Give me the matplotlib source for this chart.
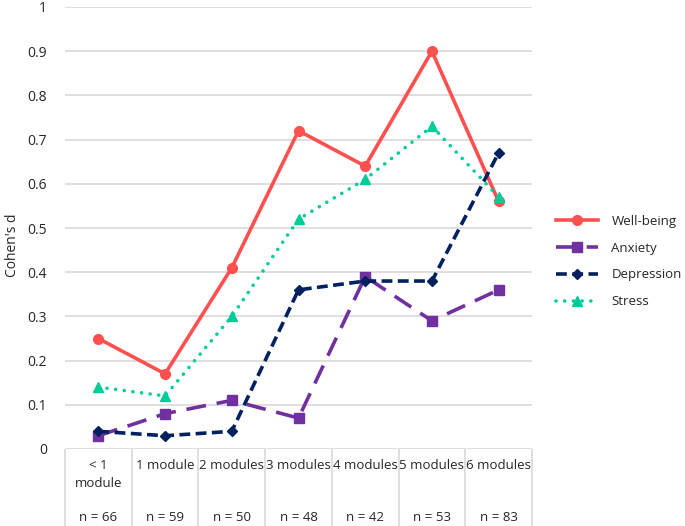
import matplotlib
matplotlib.use("Agg")
import matplotlib.pyplot as plt
import numpy as np

categories = ["< 1\nmodule", "1 module", "2 modules", "3 modules",
              "4 modules", "5 modules", "6 modules"]
n_labels = ["n = 66", "n = 59", "n = 50", "n = 48", "n = 42", "n = 53", "n = 83"]

wellbeing = [0.25, 0.17, 0.41, 0.72, 0.64, 0.90, 0.56]
anxiety = [0.03, 0.08, 0.11, 0.07, 0.39, 0.29, 0.36]
depression = [0.04, 0.03, 0.04, 0.36, 0.38, 0.38, 0.67]
stress = [0.14, 0.12, 0.30, 0.52, 0.61, 0.73, 0.57]

plt.rcParams["font.family"] = ["Open Sans", "DejaVu Sans"]
plt.rcParams["font.size"] = 9.5
text_color = "#262626"

W, H = 685, 526
fig = plt.figure(figsize=(W / 100, H / 100), dpi=100)
ax = fig.add_axes([65 / W, (H - 449) / H, 467 / W, 442 / H])

x = np.arange(len(categories))

ax.plot(x, wellbeing, color="#FF5050", lw=2.6, marker="o", ms=7,
        label="Well-being", zorder=3)
ax.plot(x, anxiety, color="#7030A0", lw=2.6, marker="s", ms=7,
        dashes=(5.5, 3), label="Anxiety", zorder=3)
ax.plot(x, depression, color="#002060", lw=2.6, marker="D", ms=5.5,
        dashes=(3, 1.5), label="Depression", zorder=3)
ax.plot(x, stress, color="#00CC99", lw=2.6, marker="^", ms=7.5,
        dashes=(0.01, 2.4), dash_capstyle="round", label="Stress", zorder=3)

ax.set_xlim(-0.5, len(categories) - 0.5)
ax.set_ylim(0, 1)
ax.set_yticks(np.arange(0, 1.01, 0.1))
ax.set_yticklabels(["0", "0.1", "0.2", "0.3", "0.4", "0.5", "0.6", "0.7",
                    "0.8", "0.9", "1"], color=text_color, fontsize=10)
ax.tick_params(axis="y", length=0, pad=13)
ax.set_xticks([])
ax.grid(axis="y", color="#D9D9D9", lw=1.2)
ax.set_axisbelow(True)
for s in ax.spines.values():
    s.set_visible(False)

ax.set_ylabel("Cohen's d", color=text_color, fontsize=10)
ax.yaxis.set_label_coords(-0.096, 0.46)

# category table under the axis
xt = ax.get_xaxis_transform()
ax.vlines(np.arange(len(categories) + 1) - 0.5, -0.2, 0, transform=xt,
          color="#D9D9D9", lw=1.2, clip_on=False)
for i, (c, n) in enumerate(zip(categories, n_labels)):
    ax.text(i, -0.022, c, transform=xt, ha="center", va="top",
            color=text_color, linespacing=1.5)
    ax.text(i, -0.154, n, transform=xt, ha="center", va="center",
            color=text_color)

ax.legend(loc="center left", bbox_to_anchor=(556 / W, 1 - 261.5 / H),
          bbox_transform=fig.transFigure, frameon=False, handlelength=3.2,
          labelspacing=1.05, borderpad=0, borderaxespad=0, handletextpad=1.0,
          labelcolor=text_color)

fig.savefig("out.png", dpi=100)
